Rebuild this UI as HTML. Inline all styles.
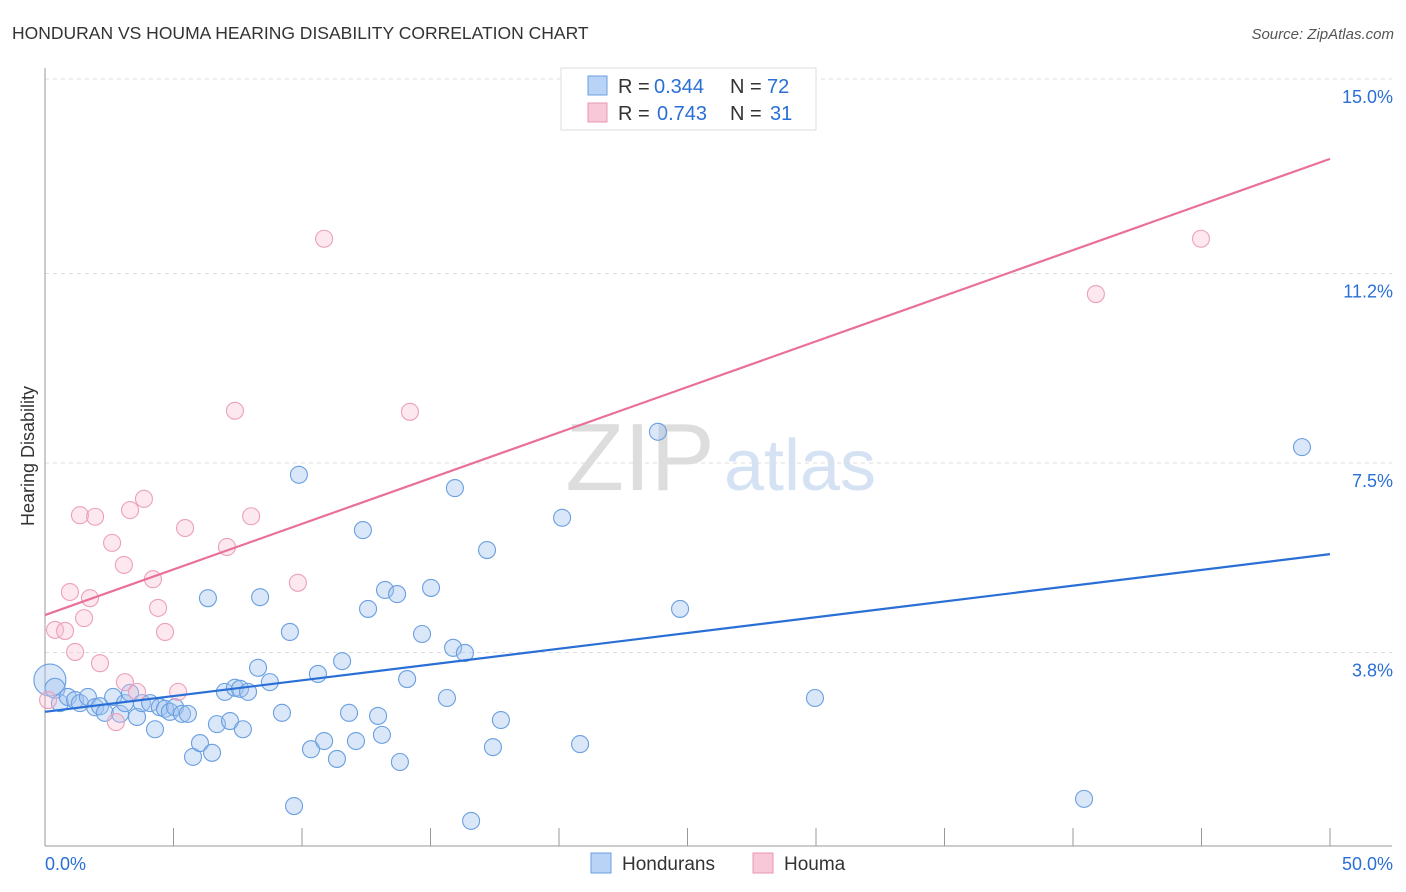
<!DOCTYPE html>
<html><head><meta charset="utf-8">
<style>
body{margin:0;background:#fff;font-family:"Liberation Sans",sans-serif;}
#wrap{position:relative;width:1406px;height:892px;overflow:hidden;}
svg text{font-family:"Liberation Sans",sans-serif;}
</style></head>
<body>
<div id="wrap">
<svg id="chart" width="1406" height="892">
<text x="12" y="39" font-size="17.5" fill="#333">HONDURAN VS HOUMA HEARING DISABILITY CORRELATION CHART</text>
<text x="1394" y="39" font-size="15" fill="#555" font-style="italic" text-anchor="end">Source: ZipAtlas.com</text>
<text x="34" y="456" font-size="18" fill="#333" transform="rotate(-90 34 456)" text-anchor="middle">Hearing Disability</text>
<text x="640" y="490" font-size="96" fill="#ddd" font-family="Liberation Serif" text-anchor="middle">ZIP</text>
<text x="800" y="490" font-size="72" fill="#d4e2f4" text-anchor="middle">atlas</text>
<g id="grid"></g><g id="axes"></g><g id="pts"></g><g id="trend"></g>
<g>
<rect x="561" y="68" width="255" height="62" fill="#fff" stroke="#ddd"/>
<rect x="588" y="76" width="19" height="19" fill="#b8d3f5" stroke="#6a9fe0"/>
<text x="618" y="93" font-size="20" fill="#333">R =</text>
<text x="654" y="93" font-size="20" fill="#2a6fd6">0.344</text>
<text x="730" y="93" font-size="20" fill="#333">N =</text>
<text x="767" y="93" font-size="20" fill="#2a6fd6">72</text>
<rect x="588" y="103" width="19" height="19" fill="#f8c8d8" stroke="#e996b2"/>
<text x="618" y="120" font-size="20" fill="#333">R =</text>
<text x="657" y="120" font-size="20" fill="#2a6fd6">0.743</text>
<text x="730" y="120" font-size="20" fill="#333">N =</text>
<text x="770" y="120" font-size="20" fill="#2a6fd6">31</text>
</g>
<g>
<rect x="591" y="853" width="20" height="20" fill="#b8d3f5" stroke="#6a9fe0"/>
<text x="622" y="870" font-size="19" fill="#333">Hondurans</text>
<rect x="753" y="853" width="20" height="20" fill="#f8c8d8" stroke="#e996b2"/>
<text x="784" y="870" font-size="19" fill="#333">Houma</text>
</g>
</svg>
</div>
<script>
const blueX=[0.19,0.39,0.58,0.89,1.17,1.36,1.67,1.95,2.14,2.33,2.65,2.92,3.11,3.31,3.58,3.77,4.09,4.28,4.47,4.67,4.86,5.06,5.33,5.56,5.76,6.03,6.34,6.50,6.69,7.00,7.20,7.39,7.59,7.70,7.90,8.29,8.37,8.75,9.22,9.53,9.69,9.88,10.35,10.62,10.86,11.36,11.56,11.83,12.10,12.37,12.57,12.96,13.11,13.23,13.70,13.81,14.09,14.67,15.02,15.64,15.88,15.95,16.34,16.58,17.20,17.43,17.74,20.12,20.82,23.85,24.71,29.96,40.43,48.91];
const blueY=[3.26,3.10,2.81,2.93,2.87,2.81,2.93,2.73,2.75,2.62,2.93,2.60,2.81,3.01,2.54,2.81,2.81,2.30,2.73,2.70,2.64,2.73,2.60,2.60,1.76,2.03,4.86,1.84,2.40,3.03,2.46,3.11,3.09,2.30,3.03,3.50,4.88,3.22,2.62,4.20,0.80,7.27,1.91,3.38,2.07,1.72,3.63,2.62,2.07,6.19,4.65,2.56,2.19,5.02,4.94,1.66,3.28,4.16,5.06,2.91,3.89,7.01,3.79,0.51,5.80,1.95,2.48,6.43,2.01,8.11,4.65,2.91,0.94,7.81];
const pinkX=[0.12,0.39,0.78,0.97,1.17,1.36,1.52,1.75,1.95,2.14,2.61,2.76,3.07,3.11,3.31,3.58,3.85,4.20,4.40,4.67,5.18,5.45,7.08,7.39,8.02,9.84,10.86,14.20,40.89,44.98];
const pinkY=[2.87,4.24,4.22,4.98,3.81,6.48,4.47,4.86,6.45,3.59,5.94,2.44,5.51,3.22,6.58,3.03,6.80,5.23,4.67,4.20,3.03,6.23,5.86,8.52,6.46,5.16,11.88,8.50,10.80,11.88];
const blueTrend=[2.64,5.72];
const pinkTrend=[4.53,13.44];
const yTicks=[3.8,7.5,11.2,15.0];
const yTickLabels=["3.8%","7.5%","11.2%","15.0%"];
const xTickVals=[0,5,10,15,20,25,30,35,40,45,50];
const NS="http://www.w3.org/2000/svg";
const X=v=>45+v*25.7, Y=v=>847-v*51.2;
function mk(tag,attrs,parent){const e=document.createElementNS(NS,tag);for(const k in attrs)e.setAttribute(k,attrs[k]);document.getElementById(parent).appendChild(e);return e;}
yTicks.forEach((t,i)=>{
  const l=mk('line',{x1:45,x2:1392,y1:Y(t),y2:Y(t),stroke:'#ddd','stroke-dasharray':'4,4'},'grid');
  
  
  const tx=mk('text',{x:1393,y:Y(t)+24,'font-size':18,fill:'#2a6fd6','text-anchor':'end'},'grid');
  tx.textContent=yTickLabels[i];
  
  
});
const ax=mk('line',{x1:45,x2:45,y1:68,y2:846,stroke:'#999'},'axes');


const bx=mk('line',{x1:45,x2:1392,y1:846,y2:846,stroke:'#999'},'axes');


xTickVals.forEach(v=>{
  const t=mk('line',{x1:X(v),x2:X(v),y1:828,y2:846,stroke:'#999'},'axes');
  
  
});
const x0=mk('text',{x:45,y:870,'font-size':18,fill:'#2a6fd6'},'axes');x0.textContent='0.0%';


const x1=mk('text',{x:1393,y:870,'font-size':18,fill:'#2a6fd6','text-anchor':'end'},'axes');x1.textContent='50.0%';


blueX.forEach((v,i)=>{
  const r=i===0?16:(i===1?10:8.5);
  const c=mk('circle',{cx:X(v),cy:Y(blueY[i]),r:r,fill:'rgba(160,196,240,0.4)',stroke:'#6a9fe0','stroke-width':1.1},'pts');
  
  
});
pinkX.forEach((v,i)=>{
  const c=mk('circle',{cx:X(v),cy:Y(pinkY[i]),r:8.5,fill:'rgba(248,190,210,0.35)',stroke:'#eba0bb','stroke-width':1.1},'pts');
  
  
});
const bl=mk('line',{x1:X(0),y1:Y(blueTrend[0]),x2:X(50),y2:Y(blueTrend[1]),stroke:'#2a6fd6','stroke-width':2.2},'trend');


const pl=mk('line',{x1:X(0),y1:Y(pinkTrend[0]),x2:X(50),y2:Y(pinkTrend[1]),stroke:'#e8709a','stroke-width':2.2},'trend');


</script>
</body></html>
